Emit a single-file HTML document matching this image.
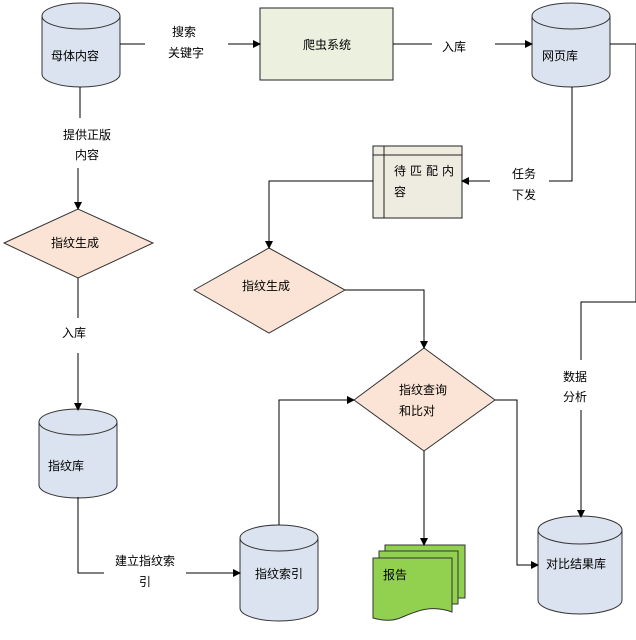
<!DOCTYPE html>
<html><head><meta charset="utf-8"><style>
html,body{margin:0;padding:0;background:#fff;}
svg{display:block;font-family:"Liberation Sans","Noto Sans CJK SC",sans-serif;font-size:12px;}
</style></head><body>
<svg width="636" height="640" viewBox="0 0 636 640" xmlns="http://www.w3.org/2000/svg">
<defs><marker id="a" markerWidth="8" markerHeight="8" refX="7" refY="4" orient="auto" markerUnits="userSpaceOnUse"><path d="M0,0 L8,4 L0,8 Z" fill="#000"/></marker></defs>
<g fill="#dae3ef" stroke="#333" stroke-width="1">
<path d="M42,16 A39,13 0 0 1 120,16 L120,74 A39,13 0 0 1 42,74 Z"/><path d="M42,16 A39,13 0 0 0 120,16" fill="none"/>
<path d="M532,16 A39,13 0 0 1 610,16 L610,74 A39,13 0 0 1 532,74 Z"/><path d="M532,16 A39,13 0 0 0 610,16" fill="none"/>
<path d="M39,422 A39,13 0 0 1 117,422 L117,485 A39,13 0 0 1 39,485 Z"/><path d="M39,422 A39,13 0 0 0 117,422" fill="none"/>
<path d="M240,538 A39,13 0 0 1 318,538 L318,608 A39,13 0 0 1 240,608 Z"/><path d="M240,538 A39,13 0 0 0 318,538" fill="none"/>
<path d="M538,530 A42,14 0 0 1 622,530 L622,600 A42,14 0 0 1 538,600 Z"/><path d="M538,530 A42,14 0 0 0 622,530" fill="none"/>
</g>
<rect x="260" y="8" width="133" height="72" fill="#ebf1de" stroke="#222"/>
<rect x="373" y="146" width="89" height="72" fill="#eeece1" stroke="#222"/>
<line x1="384" y1="146" x2="384" y2="218" stroke="#222"/><line x1="373" y1="155" x2="462" y2="155" stroke="#222"/>
<g fill="#fbe4d5" stroke="#333">
<polygon points="4,243 78,209 153,243 78,278"/>
<polygon points="194,290 269,248 345,290 269,333"/>
<polygon points="354,400 424,348 495,400 424,451"/>
</g>
<g fill="#92d050" stroke="#333">
<path d="M385,545 H465 V598 H385 Z"/>
<path d="M379,551 H458 V604 H379 Z"/>
<path d="M373,558 H452 V612 C430,604 415,612 400,618 C390,622 380,620 373,618 Z"/>
</g>
<g stroke="#000" fill="none" stroke-width="1">
<path d="M120,44 H145"/><path d="M228,44 H260" marker-end="url(#a)"/>
<path d="M393,44 H432"/><path d="M495,44 H532" marker-end="url(#a)"/>
<path d="M610,44 H636 V302 H581 V360"/><path d="M581,410 V517" marker-end="url(#a)"/>
<path d="M572,87 V181 H549"/><path d="M490,181 H462" marker-end="url(#a)"/>
<path d="M373,181 H269 V248" marker-end="url(#a)"/>
<path d="M345,290 H424 V348" marker-end="url(#a)"/>
<path d="M495,400 H517 V565 H538" marker-end="url(#a)"/>
<path d="M424,451 V545" marker-end="url(#a)"/>
<path d="M279,525 V400 H354" marker-end="url(#a)"/>
<path d="M78,497 V573 H104"/><path d="M186,573 H240" marker-end="url(#a)"/>
<path d="M80,87 V118"/><path d="M78,168 V209" marker-end="url(#a)"/>
<path d="M78,278 V318"/><path d="M78,353 V410" marker-end="url(#a)"/>
</g>
<g fill="#000">
<text x="51" y="60">母体内容</text>
<text x="303" y="49">爬虫系统</text>
<text x="542" y="60">网页库</text>
<text x="172" y="36">搜索</text><text x="168" y="57">关键字</text>
<text x="442" y="51">入库</text>
<text x="512" y="178">任务</text><text x="512" y="199">下发</text>
<text x="394" y="175" letter-spacing="4">待匹配内</text><text x="394" y="196">容</text>
<text x="63" y="139">提供正版</text><text x="75" y="159">内容</text>
<text x="51" y="247">指纹生成</text>
<text x="242" y="290">指纹生成</text>
<text x="62" y="337">入库</text>
<text x="399" y="394">指纹查询</text><text x="399" y="415">和比对</text>
<text x="563" y="381">数据</text><text x="563" y="401">分析</text>
<text x="48" y="470">指纹库</text>
<text x="115" y="565">建立指纹索</text><text x="139" y="586">引</text>
<text x="255" y="578">指纹索引</text>
<text x="383" y="579">报告</text>
<text x="546" y="568">对比结果库</text>
</g>
</svg>
</body></html>
